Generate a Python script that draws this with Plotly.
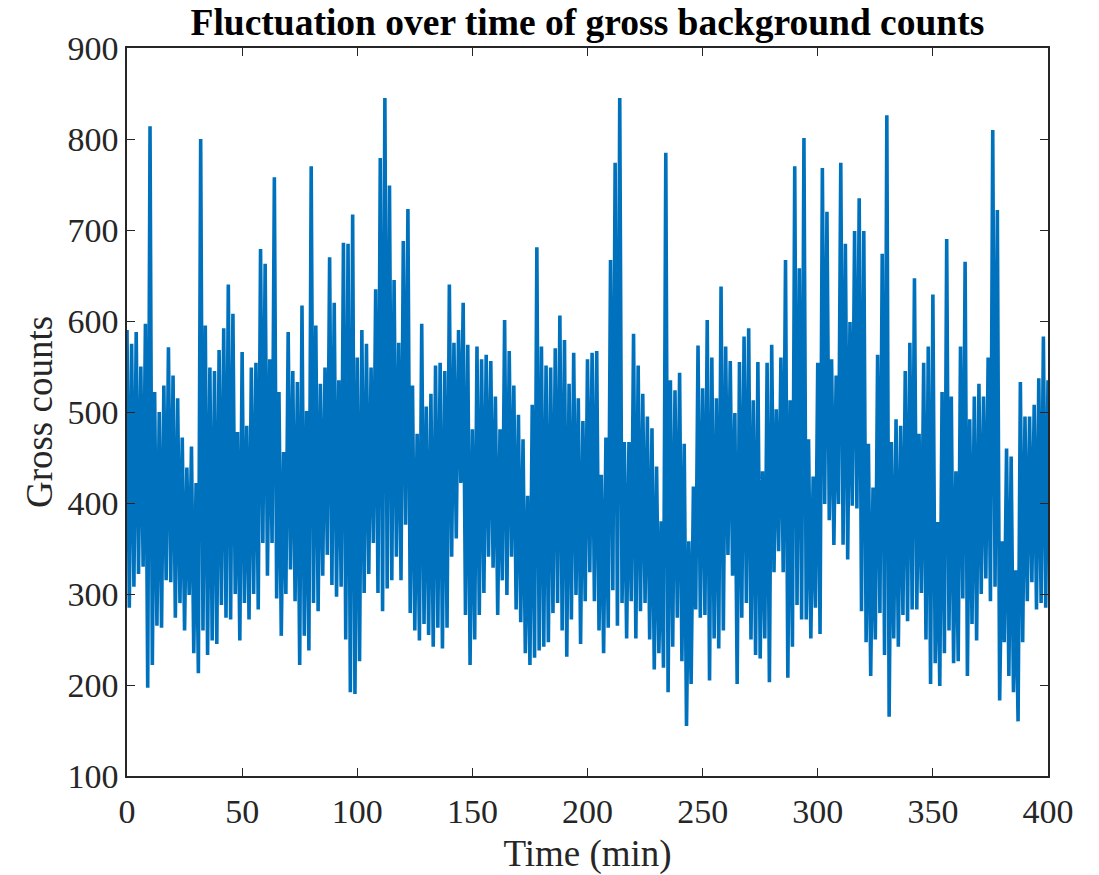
import plotly.graph_objects as go

# Time axis (minutes), one sample per minute
time_min = list(range(0, 401))

# Gross background counts (t = 0 ... 400)
gross_counts = [
    590, 285, 575, 308, 588, 322, 550, 330, 597, 197, 814, 222, 522, 265, 500, 263, 529, 315, 571, 313,
    540, 274, 515, 290, 472, 260, 439, 299, 462, 235, 422, 213, 800, 260, 595, 233, 549, 249, 545, 245,
    568, 288, 592, 274, 640, 272, 608, 300, 478, 249, 566, 290, 485, 272, 549, 300, 554, 283, 679, 356,
    663, 320, 558, 356, 758, 295, 522, 254, 456, 300, 588, 327, 545, 292, 533, 222, 617, 254, 501, 238,
    770, 290, 595, 281, 531, 320, 549, 343, 670, 310, 620, 297, 535, 308, 686, 250, 685, 192, 717, 190,
    560, 226, 590, 301, 575, 322, 549, 356, 635, 301, 779, 281, 845, 306, 749, 315, 645, 341, 576, 315,
    688, 376, 723, 279, 529, 260, 476, 249, 597, 267, 506, 255, 520, 242, 551, 263, 554, 240, 545, 263,
    640, 341, 576, 361, 590, 422, 620, 277, 574, 222, 481, 250, 572, 277, 558, 301, 563, 341, 556, 329,
    517, 277, 481, 315, 601, 299, 567, 341, 529, 283, 497, 269, 470, 235, 408, 222, 508, 230, 681, 238,
    572, 242, 551, 247, 549, 279, 570, 290, 606, 260, 579, 231, 531, 272, 565, 299, 515, 245, 490, 292,
    558, 324, 565, 292, 567, 260, 431, 235, 472, 263, 667, 304, 774, 265, 845, 290, 467, 251, 467, 292,
    586, 251, 551, 281, 520, 290, 495, 250, 482, 217, 440, 235, 380, 219, 785, 192, 535, 242, 524, 274,
    543, 226, 465, 155, 358, 201, 418, 283, 573, 274, 526, 277, 601, 205, 560, 251, 515, 240, 638, 260,
    572, 343, 556, 320, 499, 201, 555, 274, 583, 290, 592, 250, 513, 233, 555, 229, 435, 251, 554, 203,
    574, 324, 503, 347, 560, 324, 667, 208, 513, 242, 770, 288, 658, 272, 801, 272, 470, 251, 429, 285,
    554, 256, 768, 399, 720, 381, 558, 354, 540, 399, 774, 354, 685, 338, 599, 397, 699, 394, 735, 281,
    699, 247, 465, 210, 417, 250, 563, 279, 674, 233, 826, 165, 467, 251, 492, 242, 485, 277, 545, 270,
    576, 283, 647, 283, 476, 301, 554, 250, 572, 201, 629, 224, 379, 199, 522, 235, 690, 260, 517, 224,
    435, 226, 572, 295, 665, 210, 492, 267, 517, 249, 531, 300, 517, 317, 560, 292, 810, 308, 722, 183,
    358, 247, 460, 210, 451, 192, 326, 160, 533, 247, 495, 292, 495, 313, 508, 283, 537, 290, 583, 285,
    535,
]

x_ticks = [0, 50, 100, 150, 200, 250, 300, 350, 400]
y_ticks = [100, 200, 300, 400, 500, 600, 700, 800, 900]

title_text = "Fluctuation over time of gross background counts"
x_label = "Time (min)"
y_label = "Gross counts"

LINE_COLOR = "#0072BD"
AXIS_COLOR = "#262626"
FONT = "Liberation Serif, Times New Roman, serif"

fig = go.Figure()
fig.add_trace(go.Scatter(
    x=time_min, y=gross_counts, mode="lines",
    line=dict(color=LINE_COLOR, width=3.6),
    hoverinfo="x+y", showlegend=False,
))

axis_common = dict(
    showline=True, linecolor=AXIS_COLOR, linewidth=1.5, mirror="ticks",
    ticks="inside", ticklen=8, tickwidth=1.2, tickcolor=AXIS_COLOR,
    showgrid=False, zeroline=False, automargin=False,
    tickfont=dict(family=FONT, size=34, color=AXIS_COLOR),
)

fig.update_xaxes(
    range=[0, 400], tickvals=x_ticks, ticktext=[str(v) for v in x_ticks],
    ticklabelstandoff=4,
    title=dict(text=x_label, font=dict(family=FONT, size=37, color=AXIS_COLOR), standoff=14),
    **axis_common,
)
fig.update_yaxes(
    range=[100, 900], tickvals=y_ticks, ticktext=[str(v) for v in y_ticks],
    title=dict(text=y_label, font=dict(family=FONT, size=37, color=AXIS_COLOR), standoff=4),
    **axis_common,
)

fig.update_layout(
    width=1099, height=875,
    margin=dict(l=127, r=51, t=48, b=99),
    paper_bgcolor="white", plot_bgcolor="white",
    title=dict(
        text="<b>" + title_text + "</b>",
        x=0.5345, xanchor="center", y=0.975, yanchor="middle",
        font=dict(family=FONT, size=37.5, color="black"),
    ),
    font=dict(family=FONT),
)

fig.write_html("out.html")
